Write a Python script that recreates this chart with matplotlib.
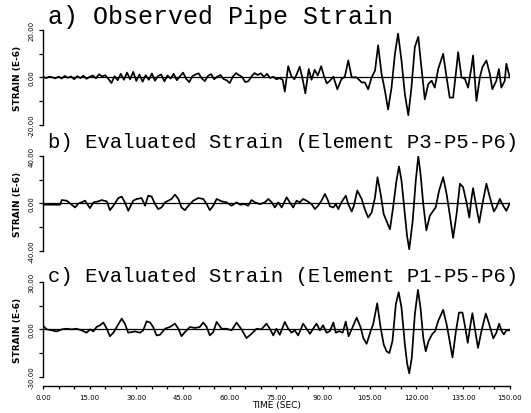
import numpy as np
import matplotlib.pyplot as plt

time_a = [0, 1, 2, 3, 4, 5, 6, 7, 8, 9, 10, 11, 12, 13, 14, 15, 16, 17, 18, 19,
          20, 21, 22, 23, 24, 25, 26, 27, 28, 29, 30, 31, 32, 33, 34, 35, 36, 37, 38, 39,
          40, 41, 42, 43, 44, 45, 46, 47, 48, 49, 50, 51, 52, 53, 54, 55, 56, 57, 58, 59,
          60, 61, 62, 63, 64, 65, 66, 67, 68, 69, 70, 71, 72, 73, 74, 75, 76,
          77.0, 77.7, 78.8, 79.8, 80.8, 81.6, 82.5, 83.4, 84.3, 85.4, 86.3, 87.3, 88.3, 89.4,
          90.3, 91.2, 92.2, 93.3, 94.6, 95.9, 97.0, 98.1, 99.2, 100.8, 102.4, 103.4, 104.5,
          105.6, 106.7, 107.7, 108.8, 109.9, 110.9, 112.0, 113.1, 114.1, 115.2, 116.3, 117.4,
          118.4, 119.5, 120.6, 121.6, 122.7, 123.8, 124.9, 125.9, 127.0, 128.6, 129.7, 130.7,
          131.8, 132.9, 133.4, 134.5, 135.6, 136.6, 137.7, 138.2, 139.3, 140.4, 141.2, 142.5,
          143.6, 144.4, 145.7, 146.5, 147.3, 148.4, 148.9, 150.0]
strain_a = [0.2, -0.3, 0.3, 0.0, -0.4, 0.3, -0.5, 0.6, -0.2, 0.4, -0.8, 0.5, -0.3, 0.7, -0.6, 0.2, 0.8, -0.4, 1.3, 0.4,
            0.9, -0.6, -2.4, 0.5, -1.2, 1.5, -1.0, 2.0, -0.8, 2.3, -1.5, 1.2, -1.8, 0.9, -1.0, 1.6, -1.4, 0.6, 1.2, -1.7,
            0.8, -0.5, 1.5, -1.2, 0.4, 2.0, -0.6, -2.0, 0.5, 1.2, 1.7, -0.4, -1.6, 0.6, 1.4, -0.8, 0.3, 1.0, -0.7, -1.2,
            -2.4, 0.3, 1.8, 0.9, 0.2, -2.0, -1.6, 0.4, 1.8, 1.0, 1.7, 0.2, 1.5, -0.3, 0.3, -0.8, -0.3,
            -1.0, -6.0, 4.7, 0.5, -0.8, 1.5, 4.5, -0.5, -6.7, 3.5, -1.0, 3.2, 0.8, 4.7,
            0.5, -2.5, -1.4, 0.3, -5.0, -0.7, 0.3, 7.1, 0.0, 0.0, -2.1, -2.1, -5.0,
            0.0, 2.8, 13.5, 1.4, -5.7, -13.5, -4.3, 9.9, 18.4, 7.1, -7.1, -15.9,
            -4.3, 12.8, 17.0, 4.3, -9.2, -2.8, -1.4, -4.3, 3.5, 9.9, 0.0, -8.5,
            -8.5, 4.3, 10.6, 0.0, -0.7, -4.3, 4.3, 9.2, -9.9, 0.0, 4.3, 7.1,
            1.4, -5.0, -1.4, 3.5, -4.3, -1.4, 5.7, 0.0]

time_b = [0, 0.1, 5.5, 6.0, 7.6, 9.2, 10.3, 11.4, 12.4, 13.5, 15.1, 16.2, 17.8, 18.8, 20.5,
          21.5, 22.6, 24.2, 25.3, 26.3, 27.4, 29.0, 30.1, 31.7, 32.8, 33.8, 34.9, 36.0, 37.0,
          38.1, 39.2, 40.3, 41.3, 42.4, 43.5, 44.5, 45.6, 46.7, 48.3, 49.9, 51.5, 52.6, 53.6,
          54.7, 55.8, 57.4, 59.0, 60.6, 62.2, 63.3, 64.9, 65.9, 67.0, 68.1, 69.7, 71.3, 72.4,
          73.5, 74.5, 75.6, 76.7, 78.3, 79.3, 80.4, 81.5, 82.5, 83.6, 84.7, 86.3, 87.4, 88.4,
          89.5, 90.6, 91.6, 92.2, 93.3, 94.1, 94.9, 95.9, 97.3, 98.1, 99.2, 99.9, 101.0, 102.4,
          103.4, 104.5, 105.6, 106.7, 107.5, 108.5, 109.5, 110.4, 111.5, 112.5, 113.6, 114.4,
          115.2, 116.3, 117.0, 117.7, 118.8, 119.8, 120.6, 121.3, 122.2, 123.2, 124.3, 125.4,
          126.2, 127.3, 128.6, 129.7, 130.7, 131.8, 132.9, 134.0, 135.0, 136.1, 137.0, 137.6,
          138.2, 139.1, 140.2, 141.2, 142.5, 143.6, 144.9, 145.7, 146.8, 147.9, 148.9, 150.0]
strain_b = [0.0, -1.1, -1.1, 2.8, 2.3, -1.1, -3.4, 0.0, 0.9, 2.3, -4.0, 0.9, 1.7, 2.8, 1.7,
            -5.7, -2.0, 4.5, 5.7, 0.9, -6.2, 2.3, 3.7, 4.5, -2.0, 6.5, 5.7, -0.6, -4.8,
            -3.4, 0.9, 2.3, 3.7, 7.4, 3.7, -3.4, -5.7, -2.0, 2.3, 4.5, 3.7, -0.6, -5.7,
            -2.0, 3.7, 1.7, 0.9, -2.0, 0.9, -1.1, -0.6, -2.0, 2.8, 0.9, -0.6, 0.9, 3.7,
            0.9, -3.4, 0.9, -3.4, 5.1, 0.9, -3.4, 2.3, 0.9, 3.7, 2.3, -0.6, -4.8, -2.0,
            2.3, 7.9, 2.3, -2.5, -3.4, -0.6, -4.8, 0.9, 6.5, -0.6, -6.8, -2.0, 10.8, 3.7,
            -4.8, -11.9, -7.7, 5.1, 22.0, 7.9, -9.1, -14.8, -21.8, -3.4, 19.3, 31.0,
            19.3, -9.1, -27.5, -38.5, -14.8, 19.3, 39.5, 25.5, -0.6, -22.7, -10.5, -6.2,
            -3.4, 10.8, 22.0, 7.9, -9.1, -29.0, -9.1, 16.5, 13.6, 0.9, -11.9, 2.3,
            12.8, -0.6, -16.2, -0.6, 16.5, 5.1, -6.8, -3.4, 3.7, -2.0, -6.2, 0.0]

time_c = [0, 0.1, 1.2, 2.8, 4.4, 6.0, 7.6, 9.2, 10.8, 12.4, 14.0, 15.1, 16.2, 17.2, 18.3,
          19.4, 20.5, 21.5, 22.6, 23.7, 25.3, 26.3, 27.4, 28.5, 29.6, 31.2, 32.2, 33.3, 34.4,
          35.4, 36.5, 37.6, 39.2, 40.8, 42.4, 43.5, 44.5, 45.6, 47.2, 48.8, 50.4, 51.5, 52.6,
          53.6, 54.7, 55.8, 57.4, 59.0, 60.6, 62.2, 63.8, 65.4, 67.0, 68.6, 70.2, 71.8, 72.9,
          74.0, 75.0, 76.1, 77.7, 78.8, 79.9, 80.9, 82.0, 83.6, 84.7, 85.8, 86.8, 87.9, 89.0,
          90.0, 91.1, 92.2, 93.3, 94.1, 95.2, 96.3, 97.3, 98.2, 99.2, 100.8, 102.1, 102.9,
          104.0, 105.3, 106.1, 107.4, 108.5, 109.5, 110.4, 111.3, 112.3, 113.4, 114.3, 115.2,
          116.3, 117.0, 117.7, 118.5, 119.5, 120.5, 121.3, 122.2, 123.0, 123.9, 125.0, 126.0,
          127.0, 128.6, 129.7, 130.5, 131.6, 132.7, 133.7, 134.8, 135.7, 136.5, 137.4, 138.0,
          138.9, 139.8, 140.9, 142.3, 143.4, 144.7, 145.7, 146.6, 147.4, 148.1, 148.9, 150.0]
strain_c = [1.5, 2.1, 0.0, -0.6, -1.3, 0.0, 0.4, 0.0, 0.4, -0.6, -2.1, 0.0, -1.3, 1.5, 2.6,
            4.3, 0.4, -4.3, -2.1, 1.5, 6.8, 3.6, -2.1, -1.7, -1.3, -2.1, -0.6, 5.1, 4.3,
            1.5, -3.8, -3.4, 0.4, 1.5, 3.6, 0.4, -4.3, -1.7, 1.5, 0.9, 1.5, 4.3, 1.5,
            -3.8, -1.7, 4.7, 0.4, 0.4, -0.6, 4.3, 0.0, -5.5, -2.8, 0.4, 0.0, 3.6, 0.4,
            -3.8, 0.4, -3.4, 4.7, 0.4, -2.1, -0.6, -3.8, 3.6, 0.4, -2.8, 0.4, 3.6, -0.6,
            2.6, -2.1, -1.1, 4.3, -2.1, -1.1, -2.1, 4.9, -4.3, 0.0, 7.4, 1.1, -5.3,
            -9.1, -1.1, 3.2, 16.4, 1.1, -9.6, -13.8, -14.9, -7.4, 16.0, 23.4, 13.8,
            -9.6, -21.3, -27.7, -18.1, 9.6, 24.9, 13.8, -5.3, -13.8, -7.4, -3.2, -1.1,
            5.3, 12.3, 3.2, -5.3, -17.7, -1.1, 10.6, 10.6, 1.1, -8.5, 3.2, 10.2,
            -1.1, -11.7, -1.1, 10.0, 3.2, -5.7, -2.1, 3.6, -1.1, -3.2, -0.6, -0.6]

titles = ['a) Observed Pipe Strain',
          'b) Evaluated Strain (Element P3-P5-P6)',
          'c) Evaluated Strain (Element P1-P5-P6)']
y_limits = [20, 40, 30]
x_ticks = [0, 15, 30, 45, 60, 75, 90, 105, 120, 135, 150]
x_tick_labels = ['0.00', '15.00', '30.00', '45.00', '60.00', '75.00',
                 '90.00', '105.00', '120.00', '135.00', '150.00']

series = [(time_a, strain_a), (time_b, strain_b), (time_c, strain_c)]

fig = plt.figure(figsize=(5.31, 4.14), dpi=100)
bottoms = [0.6957, 0.3913, 0.0870]
title_y = [0.958, 0.655, 0.333]
title_size = [18, 14.9, 14.9]

for i, (t, s) in enumerate(series):
    ax = fig.add_axes([0.081, bottoms[i], 0.879, 0.23])
    lim = y_limits[i]
    ax.plot(t, s, color='black', lw=1.25, solid_joinstyle='round')
    ax.axhline(0, color='black', lw=0.9)
    ax.set_xlim(0, 150)
    ax.set_ylim(-lim, lim)
    for sp in ['top', 'right']:
        ax.spines[sp].set_visible(False)
    ax.spines['left'].set_linewidth(1.0)
    ax.set_yticks([-lim, 0, lim])
    ax.set_yticklabels(['%.2f' % v for v in [-lim, 0, lim]], rotation=90,
                       va='center', fontsize=5)
    ax.set_yticks([-lim / 2, lim / 2], minor=True)
    ax.tick_params(axis='y', which='both', length=3, width=0.9, pad=3)
    ax.set_ylabel('STRAIN (E-6)', fontsize=6.5, fontweight='bold')
    ax.yaxis.set_label_coords(-0.045, 0.5)

    if i < 2:
        ax.spines['bottom'].set_visible(False)
        ax.set_xticks([])
    else:
        ax.spines['bottom'].set_position(('outward', 6.5))
        ax.spines['bottom'].set_linewidth(1.0)
        ax.set_xticks(x_ticks)
        ax.set_xticklabels(x_tick_labels, fontsize=5)
        ax.set_xticks(np.arange(0, 151, 5), minor=True)
        ax.tick_params(axis='x', which='both', length=2.5, width=0.9, pad=3)
        ax.set_xlabel('TIME (SEC)', fontsize=6.5)
        ax.xaxis.set_label_coords(0.5, -0.24)

    fig.text(0.09, title_y[i], titles[i], family='Liberation Mono',
             fontsize=title_size[i], va='center', ha='left')

fig.savefig('out.png', dpi=100)
